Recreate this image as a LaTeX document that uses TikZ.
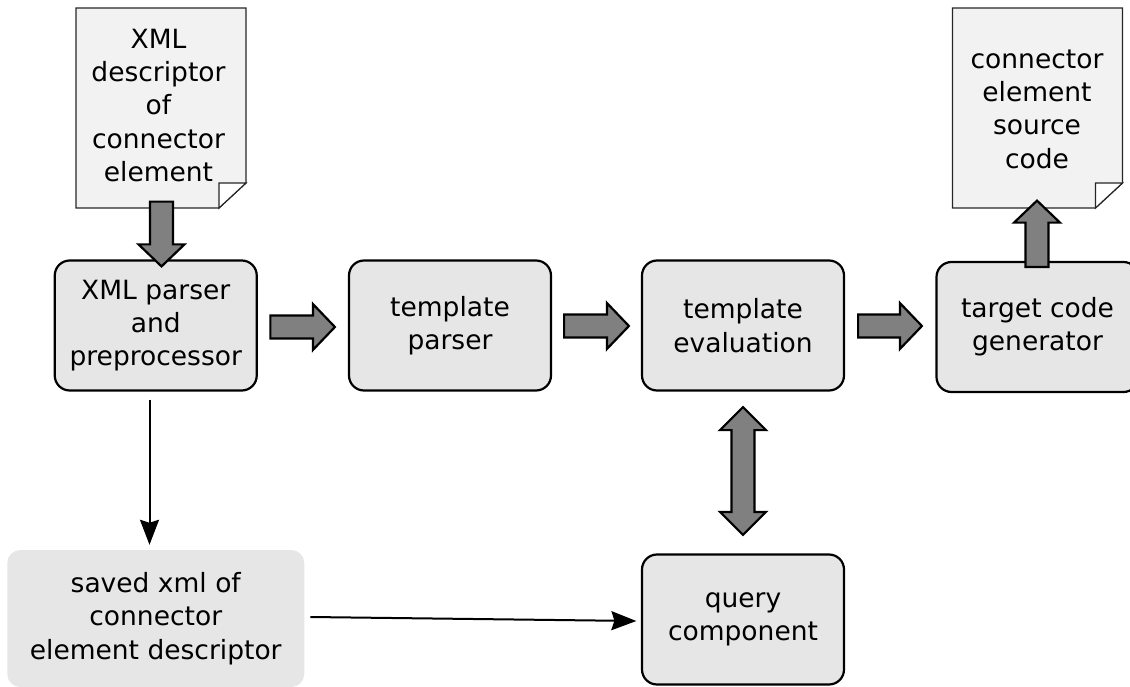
\documentclass[tikz,border=0pt]{standalone}
\usepackage{fontspec}
\usepackage{xcolor}
\usetikzlibrary{calc,arrows.meta}
\setmainfont{DejaVu Sans}

\definecolor{sheetgray}{HTML}{F2F2F2}
\definecolor{boxgray}{HTML}{E6E6E6}
\definecolor{arrowgray}{HTML}{808080}

\tikzset{
  label/.style={align=center, inner sep=0pt, font=\fontsize{26.5}{33.3}\selectfont},
  box/.style={label, draw, line width=2.2pt, fill=boxgray, rounded corners=15pt,
    minimum width=202pt, minimum height=130pt},
  sheet/.style={draw=black!85, line width=1.2pt},
  thinarrow/.style={draw, line width=2pt, -{Stealth[length=25pt,width=19pt,inset=3pt]}},
  blockarrow/.style={draw, line width=2.2pt, fill=arrowgray, miter limit=10, to path={
    -- ($(\tikztostart)!11.5pt!-90:(\tikztotarget)$)
    -- ($(\tikztotarget)!22pt!(\tikztostart)!11.5pt!-90:(\tikztotarget)$)
    -- ($(\tikztotarget)!22pt!(\tikztostart)!23pt!-90:(\tikztotarget)$)
    -- (\tikztotarget)
    -- ($(\tikztotarget)!22pt!(\tikztostart)!23pt!90:(\tikztotarget)$)
    -- ($(\tikztotarget)!22pt!(\tikztostart)!11.5pt!90:(\tikztotarget)$)
    -- ($(\tikztostart)!11.5pt!90:(\tikztotarget)$)
    -- cycle}},
  bothblockarrow/.style={draw, line width=2.2pt, fill=arrowgray, miter limit=10, to path={
    -- ($(\tikztostart)!23pt!(\tikztotarget)!23pt!-90:(\tikztotarget)$)
    -- ($(\tikztostart)!23pt!(\tikztotarget)!11.5pt!-90:(\tikztotarget)$)
    -- ($(\tikztotarget)!23pt!(\tikztostart)!11.5pt!90:(\tikztostart)$)
    -- ($(\tikztotarget)!23pt!(\tikztostart)!23pt!90:(\tikztostart)$)
    -- (\tikztotarget)
    -- ($(\tikztotarget)!23pt!(\tikztostart)!23pt!-90:(\tikztostart)$)
    -- ($(\tikztotarget)!23pt!(\tikztostart)!11.5pt!-90:(\tikztostart)$)
    -- ($(\tikztostart)!23pt!(\tikztotarget)!11.5pt!90:(\tikztotarget)$)
    -- ($(\tikztostart)!23pt!(\tikztotarget)!23pt!90:(\tikztotarget)$)
    -- cycle}}
}

\begin{document}
\begin{tikzpicture}[x=1pt, y=-1pt]
\useasboundingbox (0,0) rectangle (1130,687);
% Paper sheets with folded corner
\foreach \x in {76,952.5} {
  \draw[sheet, fill=sheetgray] (\x,8) -- (\x+170,8) -- (\x+170,183) -- (\x+143,208) -- (\x,208) -- cycle;
  \draw[sheet, fill=white] (\x+143,208) -- (\x+143,183) -- (\x+170,183) -- cycle;
}
\node[label] (xmldoc) at (158.5,105.5) {XML\\descriptor\\of\\connector\\element};
\node[label] (sourcedoc) at (1037,109) {connector\\element\\source\\code};
% Processing steps
\node[box] (parser) at (155.75,325.5) {XML parser\\and\\preprocessor};
\node[box] (tparser) at (450,325.5) {template\\parser};
\node[box] (teval) at (743,325.5) {template\\evaluation};
\node[box] (target) at (1037.5,327) {target code\\generator};
\node[box] (query) at (743,619.5) {query\\component};
\node[label, fill=boxgray, rounded corners=13pt, minimum width=297pt, minimum height=137pt] (saved) at (155.75,618.5)
  {saved xml of\\connector\\element descriptor};
% Block arrows
\draw[blockarrow] ($(xmldoc.south)+(3,19.5)$) to ($(parser.north)+(5.75,7)$);
\draw[blockarrow] ($(parser.east)+(12.5,1.5)$) to ($(tparser.west)+(-13,1.5)$);
\draw[blockarrow] ($(tparser.east)+(12,0.5)$) to ($(teval.west)+(-12,0.5)$);
\draw[blockarrow] ($(teval.east)+(13,0.5)$) to ($(target.west)+(-13.5,-1)$);
\draw[blockarrow] ($(target.north)+(-0.5,6)$) to ($(sourcedoc.south)+(0,32)$);
\draw[bothblockarrow] ($(teval.south)+(0,15.5)$) to ($(query.north)+(0,-18.5)$);
% Thin arrows
\draw[thinarrow] ($(parser.south)+(-6.25,8)$) -- ($(saved.north)+(-6.25,-5)$);
\draw[thinarrow] ($(saved.east)+(6,-1.5)$) -- ($(query.west)+(-4.5,1.5)$);
\end{tikzpicture}
\end{document}
